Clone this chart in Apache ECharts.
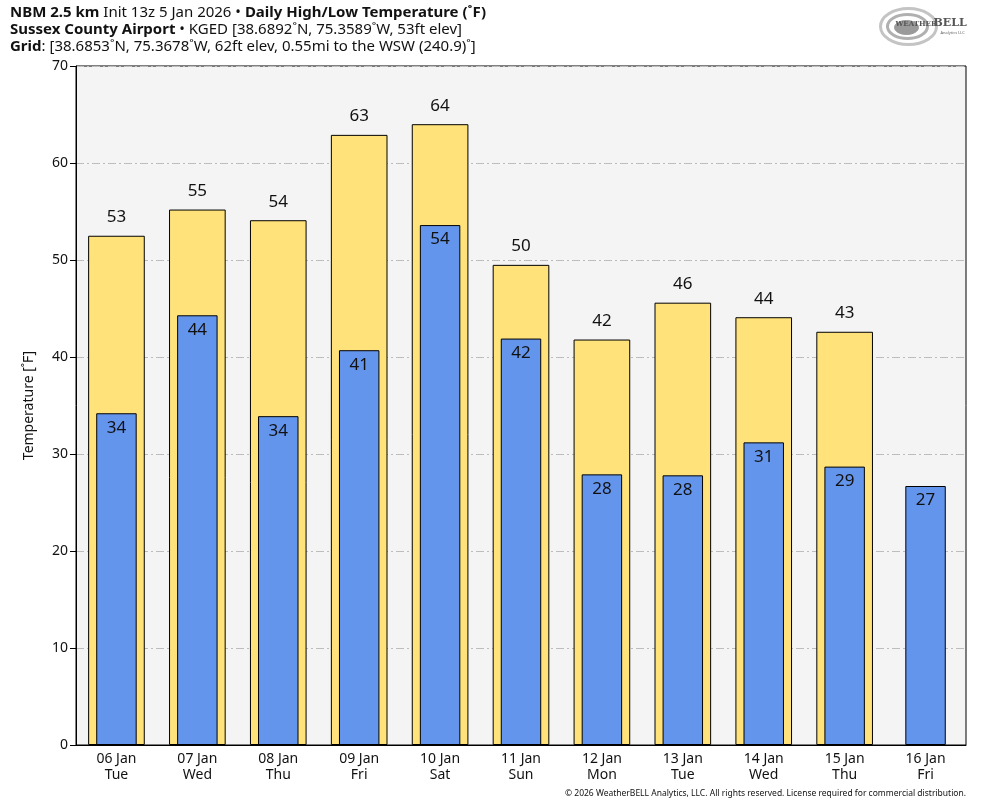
<!DOCTYPE html>
<html>
<head>
<meta charset="utf-8">
<script src="https://cdn.jsdelivr.net/npm/echarts@6/dist/echarts.min.js"></script>
<style>
  html, body { margin: 0; padding: 0; background: #fff; }
  #chart { width: 984px; height: 808px; }
</style>
</head>
<body>
<div id="chart"></div>
<script>
const days = ['06 Jan', '07 Jan', '08 Jan', '09 Jan', '10 Jan', '11 Jan', '12 Jan', '13 Jan', '14 Jan', '15 Jan', '16 Jan']
const weekdays = ['Tue', 'Wed', 'Thu', 'Fri', 'Sat', 'Sun', 'Mon', 'Tue', 'Wed', 'Thu', 'Fri']
const highs = [52.5, 55.2, 54.1, 62.9, 64.0, 49.5, 41.8, 45.6, 44.1, 42.6, null]
const lows = [34.2, 44.3, 33.9, 40.7, 53.6, 41.9, 27.9, 27.8, 31.2, 28.7, 26.7]

const FONT = '"Noto Sans", "Open Sans", sans-serif'
const categories = days.map((d, i) => d + '\n' + weekdays[i])

const chart = echarts.init(document.getElementById('chart'))

const option = {
  backgroundColor: '#ffffff',
  animation: false,
  textStyle: { fontFamily: FONT },
  grid: {
    left: 76, right: 18, top: 66, bottom: 63,
    show: true,
    backgroundColor: '#f4f4f4',
    borderColor: '#000',
    borderWidth: 1
  },
  xAxis: [
    {
      type: 'category',
      data: categories,
      axisLine: { lineStyle: { color: '#000' } },
      axisTick: { show: false },
      axisLabel: { color: '#111', fontSize: 14, lineHeight: 16, margin: 6, fontFamily: FONT }
    },
    {
      type: 'category',
      data: categories,
      show: false
    }
  ],
  yAxis: {
    type: 'value',
    min: 0, max: 70, interval: 10,
    name: 'Temperature [˚F]',
    nameLocation: 'middle',
    nameGap: 40,
    nameTextStyle: { color: '#111', fontSize: 14, fontFamily: FONT },
    axisLine: { show: true, lineStyle: { color: '#000' } },
    axisTick: { show: true, length: 6, lineStyle: { color: '#000' } },
    axisLabel: { color: '#111', fontSize: 14, margin: 8, fontFamily: FONT },
    splitLine: { lineStyle: { color: '#bdbdbd', type: [8, 3, 2, 3], width: 1 } }
  },
  series: [
    {
      name: 'High',
      type: 'bar',
      xAxisIndex: 0,
      data: highs,
      barWidth: '70%',
      itemStyle: { color: '#ffe37a', borderColor: '#000', borderWidth: 1 },
      label: {
        show: true,
        position: 'top',
        distance: 10,
        color: '#111',
        fontSize: 17,
        fontFamily: FONT,
        formatter: p => Math.round(p.value)
      },
      z: 2
    },
    {
      name: 'Low',
      type: 'bar',
      xAxisIndex: 1,
      data: lows,
      barWidth: '50%',
      itemStyle: { color: '#6495ed', borderColor: '#000', borderWidth: 1 },
      label: {
        show: true,
        position: 'insideTop',
        distance: 6,
        color: '#111',
        fontSize: 17,
        fontFamily: FONT,
        formatter: p => Math.round(p.value)
      },
      z: 3
    }
  ],
  graphic: [
    {
      type: 'text', left: 10, top: 5,
      style: {
        text: '{b|NBM 2.5 km} Init 13z 5 Jan 2026 • {b|Daily High/Low Temperature (˚F)}',
        font: '15px ' + FONT, fill: '#111',
        rich: { b: { fontWeight: 'bold', fontSize: 15, fontFamily: FONT } }
      }
    },
    {
      type: 'text', left: 10, top: 22,
      style: {
        text: '{b|Sussex County Airport} • KGED [38.6892˚N, 75.3589˚W, 53ft elev]',
        font: '15px ' + FONT, fill: '#111',
        rich: { b: { fontWeight: 'bold', fontSize: 15, fontFamily: FONT } }
      }
    },
    {
      type: 'text', left: 10, top: 39,
      style: {
        text: '{b|Grid}: [38.6853˚N, 75.3678˚W, 62ft elev, 0.55mi to the WSW (240.9)˚]',
        font: '15px ' + FONT, fill: '#111',
        rich: { b: { fontWeight: 'bold', fontSize: 15, fontFamily: FONT } }
      }
    },
    // logo approximation
    {
      type: 'group', left: 878, top: 6,
      children: [
        { type: 'ellipse', shape: { cx: 30, cy: 24, rx: 28, ry: 18 }, style: { fill: 'none', stroke: '#c4c4c4', lineWidth: 3 } },
        { type: 'ellipse', shape: { cx: 29, cy: 24, rx: 20, ry: 12 }, style: { fill: 'none', stroke: '#b0b0b0', lineWidth: 3 } },
        { type: 'ellipse', shape: { cx: 28, cy: 25, rx: 12, ry: 7 }, style: { fill: '#9a9a9a', stroke: '#9a9a9a', lineWidth: 1 } },
        { type: 'text', left: 17, top: 18, style: { text: 'WEATHER', font: 'bold 7px "DejaVu Serif", serif', fill: '#555' } },
        { type: 'text', left: 55, top: 15, style: { text: 'BELL', font: 'bold 11px "DejaVu Serif", serif', fill: '#555' } },
        { type: 'text', left: 62, top: 28, style: { text: 'Analytics LLC', font: '4px ' + FONT, fill: '#666' } }
      ]
    },
    {
      type: 'text', right: 18, top: 789,
      style: {
        text: '© 2026 WeatherBELL Analytics, LLC. All rights reserved. License required for commercial distribution.',
        font: '8.5px ' + FONT, fill: '#111'
      }
    }
  ]
}

chart.setOption(option)
</script>
</body>
</html>
